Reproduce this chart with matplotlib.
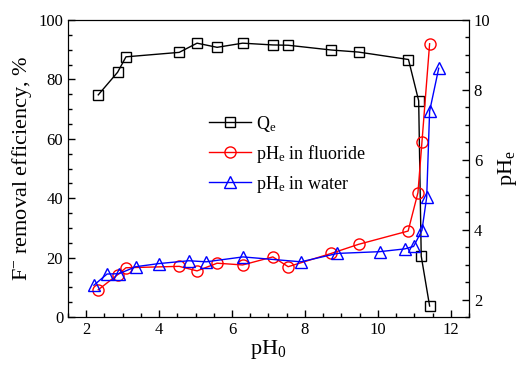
import matplotlib
matplotlib.use("Agg")
import matplotlib.pyplot as plt
from matplotlib.ticker import MultipleLocator

plt.rcParams['font.family'] = ['Liberation Serif', 'DejaVu Serif']
plt.rcParams['mathtext.fontset'] = 'custom'
plt.rcParams['mathtext.rm'] = 'Liberation Serif'
plt.rcParams['mathtext.it'] = 'Liberation Serif'

# removal efficiency Q_e (left axis)
ph0_q = [2.33, 2.86, 3.09, 4.55, 5.04, 5.59, 6.29, 7.12, 7.54, 8.72, 9.47, 10.84, 11.12, 11.19, 11.42]
q_e = [74.8, 82.4, 87.6, 89.1, 92.2, 90.8, 92.2, 91.6, 91.5, 89.9, 89.2, 86.7, 72.8, 20.5, 3.7]

# final pH in fluoride solution (right axis)
ph0_f = [2.33, 2.86, 3.09, 4.55, 5.04, 5.59, 6.29, 7.12, 7.54, 8.72, 9.47, 10.83, 11.10, 11.21, 11.42]
phe_f = [2.28, 2.71, 2.91, 2.95, 2.82, 3.04, 2.99, 3.22, 2.94, 3.32, 3.58, 3.96, 5.06, 6.51, 9.32]

# final pH in water (right axis)
ph0_w = [2.21, 2.57, 2.90, 3.36, 4.00, 4.81, 5.29, 6.30, 7.89, 8.89, 10.05, 10.74, 10.98, 11.21, 11.34, 11.42, 11.67]
phe_w = [2.41, 2.73, 2.74, 2.94, 3.03, 3.11, 3.08, 3.22, 3.08, 3.32, 3.37, 3.45, 3.52, 3.98, 4.93, 7.39, 8.62]

fig = plt.figure(figsize=(5.26, 3.67), dpi=100)
ax = fig.add_axes([0.1293, 0.1362, 0.7623, 0.8093])
ax2 = ax.twinx()

l1, = ax.plot(ph0_q, q_e, color='black', lw=1, marker='s', ms=7,
              mfc='none', mec='black', mew=1, label='Q$_\\mathrm{e}$')
l2, = ax2.plot(ph0_f, phe_f, color='red', lw=1, marker='o', ms=8,
               mfc='none', mec='red', mew=1, label='pH$_\\mathrm{e}$ in fluoride')
l3, = ax2.plot(ph0_w, phe_w, color='blue', lw=1, marker='^', ms=9,
               mfc='none', mec='blue', mew=1, label='pH$_\\mathrm{e}$ in water')

ax.set_xlim(1.5, 12.5)
ax.set_ylim(0, 100)
ax2.set_ylim(1.5, 10)

ax.xaxis.set_major_locator(MultipleLocator(2))
ax.xaxis.set_minor_locator(MultipleLocator(0.5))
ax.yaxis.set_major_locator(MultipleLocator(20))
ax.yaxis.set_minor_locator(MultipleLocator(5))
ax2.yaxis.set_major_locator(MultipleLocator(2))
ax2.yaxis.set_minor_locator(MultipleLocator(0.5))

for a in (ax, ax2):
    a.tick_params(which='both', direction='in', labelsize=12, width=1)
    a.tick_params(which='major', length=5)
    a.tick_params(which='minor', length=3)
ax.tick_params(which='both', top=False, right=False)
ax2.tick_params(which='both', left=False)

ax.set_xlabel('pH$_\\mathrm{0}$', fontsize=16, labelpad=0)
ax.set_ylabel('F$^{-}$ removal efficiency, %', fontsize=16, labelpad=3)
ax2.set_ylabel('pH$_\\mathrm{e}$', fontsize=16, labelpad=4)

ax.legend(handles=[l1, l2, l3], loc='upper left', bbox_to_anchor=(0.33, 0.715),
          frameon=False, fontsize=13, handlelength=2.3, handletextpad=0.3,
          labelspacing=0.5, borderpad=0)

fig.savefig('out.png', dpi=100)
